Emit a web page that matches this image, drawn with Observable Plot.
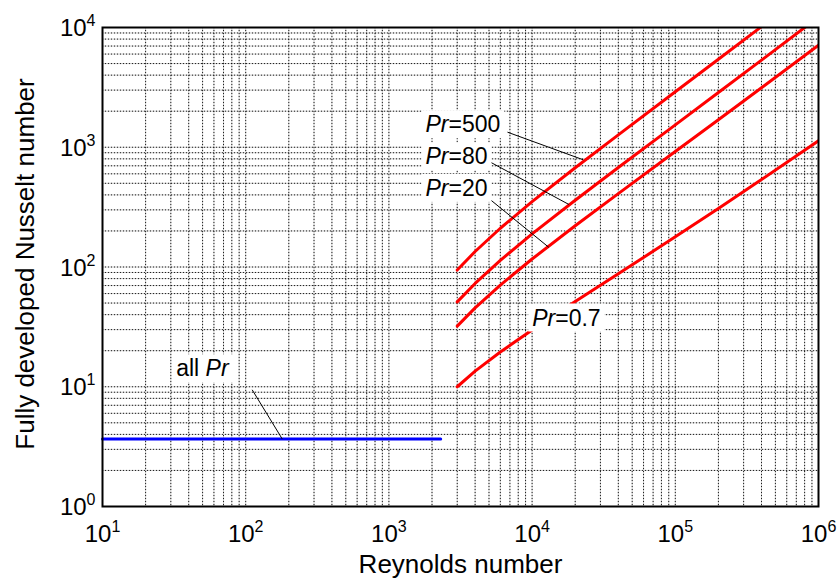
<!DOCTYPE html>
<html>
<head>
<meta charset="utf-8">
<script src="https://cdn.jsdelivr.net/npm/d3@7"></script>
<script src="https://cdn.jsdelivr.net/npm/@observablehq/plot@0.6"></script>
<style>
  html, body { margin: 0; padding: 0; background: #fff; }
</style>
</head>
<body>
<script>
// ---- data ----
const reGrid  = [3000, 4000, 6000, 10000, 20000, 40000, 100000, 200000, 400000, 1000000];
const prList  = [0.7, 20, 80, 500];
const nuPr07  = [10.0, 13.5, 19.5, 29.8, 51.4, 87.7, 178.6, 308.5, 537.3, 1132];
const nuPr20  = [32.1, 45.6, 70.6, 116.6, 220.9, 410.0, 920.9, 1699, 3141, 7111];
const nuPr80  = [51.1, 72.9, 113.6, 189.0, 361.2, 676.8, 1538, 2862, 5338, 12220];
const nuPr500 = [94.3, 134.7, 210.6, 351.4, 674.8, 1270, 2904, 5427, 10164];

const laminarRe = [10, 2300];
const laminarNu = [3.66, 3.66];

const xTicks = [1e1, 1e2, 1e3, 1e4, 1e5, 1e6];
const yTicks = [1e0, 1e1, 1e2, 1e3, 1e4];

const labelText = ["Pr=500", "Pr=80", "Pr=20", "Pr=0.7", "all Pr"];
const labelRe   = [1801, 1801, 1801, 10016, 32.7];
const labelNu   = [1539, 829, 452, 37.4, 14.1];

const leaderRe1 = [6733, 5122, 5122, 111];
const leaderNu1 = [1336, 750, 364, 9.43];
const leaderRe2 = [22748, 18047, 13079, 180];
const leaderNu2 = [786, 333, 146, 3.66];

const xTitle = "Reynolds number";
const yTitle = "Fully developed Nusselt number";

// ---- tables built from the arrays ----
const seriesNu = [nuPr07, nuPr20, nuPr80, nuPr500];
const turbulent = prList.flatMap((pr, i) =>
  seriesNu[i].map((nu, j) => ({pr, re: reGrid[j], nu})));
const laminar = laminarRe.map((re, i) => ({re, nu: laminarNu[i]}));
const labels = labelText.map((t, i) => ({t, re: labelRe[i], nu: labelNu[i]}));
const leaders = leaderRe1.map((r, i) => ({x1: r, y1: leaderNu1[i], x2: leaderRe2[i], y2: leaderNu2[i]}));

const minor = (lo, hi) => {
  const out = [];
  for (let e = lo; e < hi; e++) for (let k = 1; k <= 9; k++) out.push(k * Math.pow(10, e));
  out.push(Math.pow(10, hi));
  return out;
};
const xGrid = minor(1, 6);
const yGrid = minor(0, 4);
const expFmt = d => "10^" + Math.round(Math.log10(d));

const chart = Plot.plot({
  width: 838,
  height: 583,
  marginLeft: 102,
  marginRight: 20,
  marginTop: 27,
  marginBottom: 77,
  style: {fontFamily: "'Liberation Sans', Arial, sans-serif", fontSize: "24px", background: "#fff", color: "#000"},
  x: {type: "log", domain: [10, 1e6], axis: null},
  y: {type: "log", domain: [1, 1e4], axis: null},
  marks: [
    Plot.gridX(xGrid, {stroke: "#c4c4c4", strokeOpacity: 1, strokeWidth: 1}),
    Plot.gridY(yGrid, {stroke: "#c4c4c4", strokeOpacity: 1, strokeWidth: 1}),
    Plot.gridX(xGrid, {stroke: "#000", strokeOpacity: 0.85, strokeWidth: 1, strokeDasharray: "1,2"}),
    Plot.gridY(yGrid, {stroke: "#000", strokeOpacity: 0.85, strokeWidth: 1, strokeDasharray: "1,2"}),
    // tick labels placed through the x / y scales
    Plot.text(xTicks, {x: d => d, frameAnchor: "bottom", textAnchor: "middle", lineAnchor: "middle", dy: 28, fontSize: 24, text: expFmt}),
    Plot.text(yTicks, {y: d => d, frameAnchor: "left", textAnchor: "end", lineAnchor: "middle", dx: -7, dy: 1, fontSize: 24, text: expFmt}),
    Plot.text([xTitle], {frameAnchor: "bottom", textAnchor: "middle", lineAnchor: "middle", dy: 58, fontSize: 26, text: d => d}),
    Plot.text([yTitle], {frameAnchor: "left", textAnchor: "middle", lineAnchor: "middle", dx: -77, dy: -3, rotate: -90, fontSize: 26, text: d => d}),
    Plot.line(laminar, {x: "re", y: "nu", stroke: "#0000ff", strokeWidth: 3}),
    Plot.line(turbulent, {x: "re", y: "nu", z: "pr", stroke: "#ff0000", strokeWidth: 3, clip: true}),
    Plot.link(leaders, {x1: "x1", y1: "y1", x2: "x2", y2: "y2", stroke: "#000", strokeWidth: 1}),
    Plot.text(labels, {x: "re", y: "nu", text: "t", textAnchor: "start", lineAnchor: "middle", fontSize: 23, fill: "#000"}),
    Plot.frame({stroke: "#000", strokeWidth: 2})
  ]
});
document.body.appendChild(chart);

const NS = "http://www.w3.org/2000/svg";
// superscript exponents on tick labels
chart.querySelectorAll("text").forEach(t => {
  const m = /^10\^(-?\d+)$/.exec(t.textContent);
  if (m) {
    t.textContent = "10";
    const ts = document.createElementNS(NS, "tspan");
    ts.setAttribute("font-size", "16");
    ts.style.fontSize = "16px";
    ts.setAttribute("dy", "-10");
    ts.textContent = m[1];
    t.appendChild(ts);
  }
});
// italic "Pr" and white boxes behind annotations
chart.querySelectorAll("text").forEach(t => {
  const s = t.textContent;
  if (!labelText.includes(s)) return;
  const i = s.indexOf("Pr");
  t.textContent = "";
  if (i > 0) t.appendChild(document.createTextNode(s.slice(0, i)));
  const it = document.createElementNS(NS, "tspan");
  it.setAttribute("font-style", "italic");
  it.textContent = "Pr";
  t.appendChild(it);
  const rest = s.slice(i + 2);
  if (rest) t.appendChild(document.createTextNode(rest));
  const b = t.getBBox();
  const r = document.createElementNS(NS, "rect");
  const pad = 4;
  r.setAttribute("x", b.x - pad);
  r.setAttribute("y", b.y - 1);
  r.setAttribute("width", b.width + 2 * pad);
  r.setAttribute("height", b.height + 2);
  r.setAttribute("fill", "#fff");
  r.setAttribute("stroke", "none");
  const tr = t.getAttribute("transform");
  if (tr) r.setAttribute("transform", tr);
  t.parentNode.insertBefore(r, t);
});
</script>
</body>
</html>
